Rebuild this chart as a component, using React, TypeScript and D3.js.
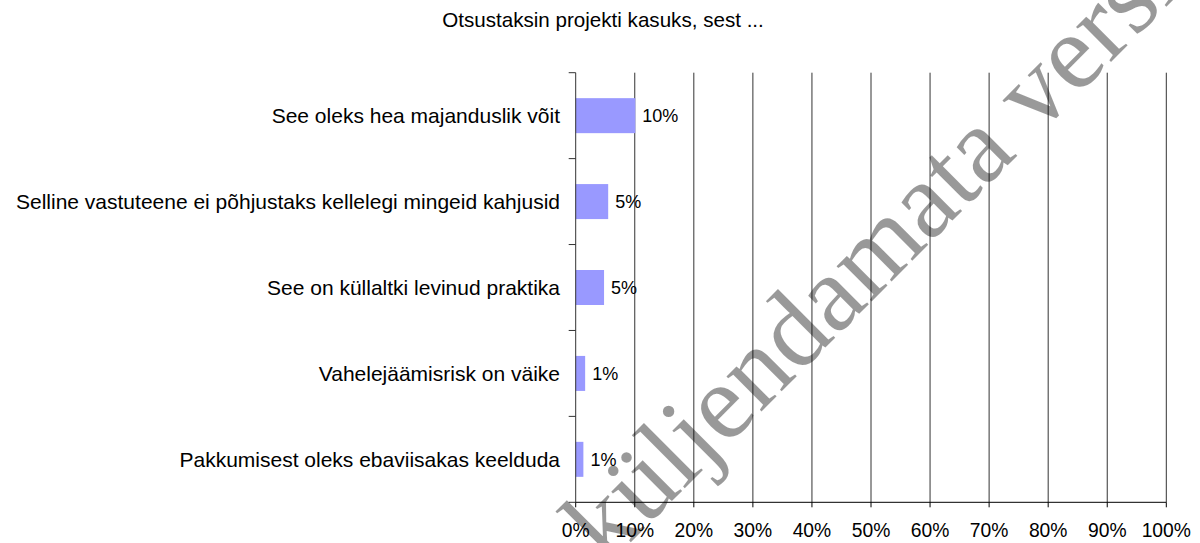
import React from "react";
import * as d3 from "d3";

const title = "Otsustaksin projekti kasuks, sest ...";
const categories = [
  "See oleks hea majanduslik võit",
  "Selline vastuteene ei põhjustaks kellelegi mingeid kahjusid",
  "See on küllaltki levinud praktika",
  "Vahelejäämisrisk on väike",
  "Pakkumisest oleks ebaviisakas keelduda",
];
const values = [10.1, 5.5, 4.8, 1.6, 1.3];
const valueLabels = ["10%", "5%", "5%", "1%", "1%"];
const xTicks = [0, 10, 20, 30, 40, 50, 60, 70, 80, 90, 100];
const watermark = "küljendamata versioon";

const W = 1200;
const H = 543;
const left = 575.7;
const right = 1166.3;
const top = 72.7;
const bottom = 502.3;
const font = "'Liberation Sans', Arial, sans-serif";

export default function App() {
  const x = d3.scaleLinear().domain([0, 100]).range([left, right]);
  const y = d3.scaleBand<string>().domain(categories).range([top, bottom]);
  const barH = 35;
  const bandEdges = [...categories.map((c) => y(c)!), bottom];

  return (
    <svg
      width={W}
      height={H}
      style={{ position: "absolute", left: 0, top: 0, background: "#fff" }}
      fontFamily={font}
    >
      <text x={603} y={27.3} textAnchor="middle" fontSize={20.6} fill="#000">
        {title}
      </text>
      {xTicks.slice(1).map((t) => (
        <line key={t} x1={x(t)} x2={x(t)} y1={top} y2={bottom} stroke="#333" strokeWidth={1} />
      ))}
      {categories.map((c, i) => {
        const cy = y(c)! + y.bandwidth() / 2;
        return (
          <g key={c}>
            <rect x={x(0)} y={cy - barH / 2} width={x(values[i]) - x(0)} height={barH} fill="#9999FF" />
            <text x={x(values[i]) + 7} y={cy} dy="0.35em" fontSize={18} fill="#000">
              {valueLabels[i]}
            </text>
            <text x={560} y={cy} dy="0.35em" textAnchor="end" fontSize={21} fill="#000">
              {c}
            </text>
          </g>
        );
      })}
      <line x1={left} x2={left} y1={top} y2={bottom} stroke="#333" />
      {bandEdges.map((e, i) => (
        <line key={i} x1={left - 7} x2={left} y1={e} y2={e} stroke="#333" />
      ))}
      <line x1={left} x2={right} y1={bottom} y2={bottom} stroke="#000" />
      {xTicks.map((t) => (
        <g key={t}>
          <line x1={x(t)} x2={x(t)} y1={bottom} y2={bottom + 5} stroke="#000" />
          <text x={x(t)} y={537} textAnchor="middle" fontSize={19.3} fill="#000">
            {t}%
          </text>
        </g>
      ))}
      <text
        x={607}
        y={566}
        transform="rotate(-45 607 566)"
        fontFamily="'Liberation Serif', 'Times New Roman', serif"
        fontSize={108}
        fill="#000"
        fillOpacity={0.4}
      >
        {watermark}
      </text>
    </svg>
  );
}
